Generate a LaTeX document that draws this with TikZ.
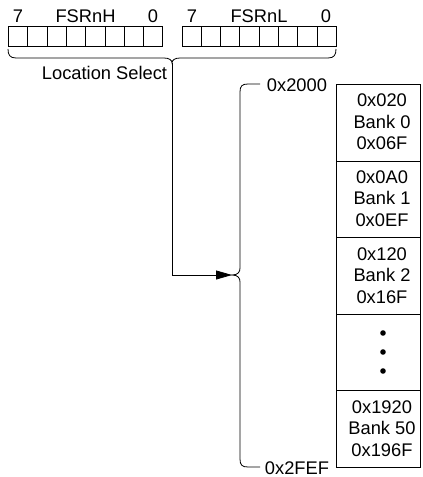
\documentclass[tikz,border=0pt]{standalone}
\usepackage{fontspec}
\setmainfont{Liberation Sans}
\usetikzlibrary{arrows.meta}
\begin{document}
\begin{tikzpicture}[x=1pt,y=-1pt,line width=0.8pt,
  txt/.style={inner sep=0pt,font=\fontsize{18.3}{21.5}\selectfont,align=center},
  bitcell/.style={draw,minimum width=19.3pt,minimum height=20pt,inner sep=0pt,anchor=north west},
  memcell/.style={draw,minimum width=84pt,minimum height=76.6pt,inner sep=0pt,anchor=north west},
  brace/.style={line width=0.8pt},
  arr/.style={-{Triangle[length=16pt,width=9pt]}}]
\useasboundingbox (0,0) rectangle (423,477);
% registers
\foreach \i in {0,...,7} {
  \node[bitcell] (hb\i) at ({8+19.3*\i},26) {};
  \node[bitcell] (lb\i) at ({181.5+19.3*\i},26) {};
}
\node[txt] (h7) at (18,16) {7};
\node[txt] (hname) at (85.5,16) {FSRnH};
\node[txt] (h0) at (153,16) {0};
\node[txt] (l7) at (192,16) {7};
\node[txt] (lname) at (259,16) {FSRnL};
\node[txt] (l0) at (326,16) {0};
\node[txt] (locsel) at (104.5,73.3) {Location Select};
% horizontal brace
\coordinate (selTip) at (172,63);
\draw[brace] (8,49) .. controls (8,55) and (10,58) .. (16,58) -- (164,58)
  .. controls (169,58) and (172,60) .. (selTip)
  .. controls (172,60) and (175,58) .. (180,58) -- (328,58)
  .. controls (334,58) and (336,55) .. (336,49);
% vertical brace
\coordinate (bankTip) at (232,275);
\draw[brace] (260,84) -- (248,84) .. controls (242,84) and (240,86) .. (240,92)
  -- (240,268) .. controls (240,272) and (238,275) .. (bankTip)
  .. controls (238,275) and (240,278) .. (240,282)
  -- (240,459) .. controls (240,465) and (242,467) .. (248,467) -- (260,467);
\node[txt] (addrTop) at (297,85) {0x2000};
\node[txt] (addrBot) at (297,468) {0x2FEF};
% connector
\draw[arr] (selTip) |- (bankTip);
% memory cells
\node[memcell] (m0) at (336,84) {};
\node[memcell] (m1) at (336,160.6) {};
\node[memcell] (m2) at (336,237.2) {};
\node[memcell] (m3) at (336,313.8) {};
\node[memcell] (m4) at (336,390.4) {};
\node[txt] (t0) at (382,122) {0x020\\Bank 0\\0x06F};
\node[txt] (t1) at (382,198.6) {0x0A0\\Bank 1\\0x0EF};
\node[txt] (t2) at (382,275.2) {0x120\\Bank 2\\0x16F};
\node[txt] (t4) at (382,428.4) {0x1920\\Bank 50\\0x196F};
\foreach \yy/\n in {333/d1,352/d2,371/d3}
  \fill (383,\yy) circle (2.8pt) coordinate (\n);
\end{tikzpicture}
\end{document}
